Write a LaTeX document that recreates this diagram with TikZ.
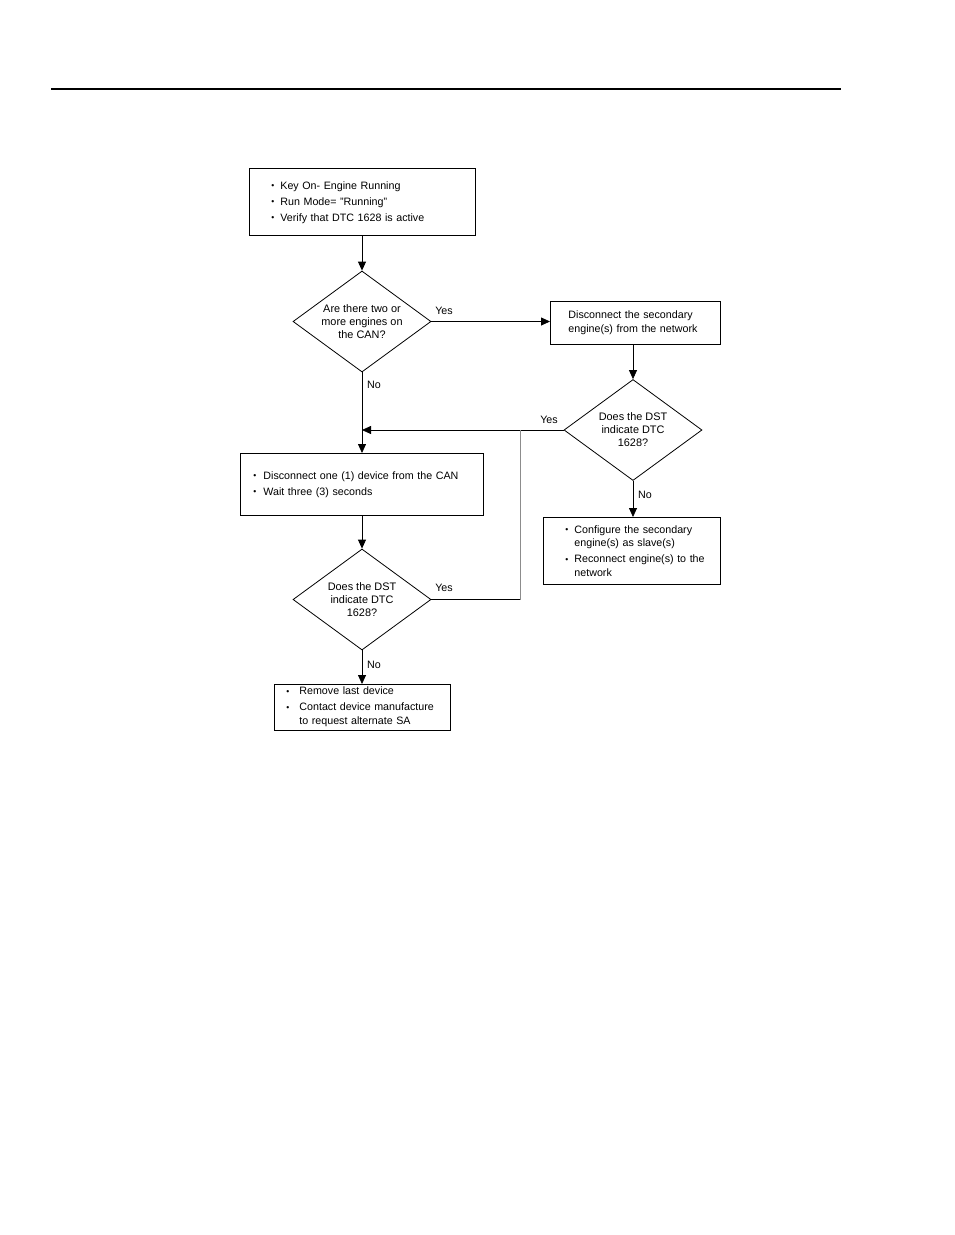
\documentclass[tikz,border=0pt]{standalone}
\usepackage{fontspec}
\setmainfont{Liberation Sans}
\usetikzlibrary{shapes.geometric,arrows.meta}
\newcommand\bdot{\raisebox{0.6pt}{\fontsize{8.5}{8.5}\selectfont •}}
\newcommand\bitem[2][9pt]{\par\noindent\hangindent=#1\hangafter=1\makebox[#1][l]{\bdot}#2\par}
\newcommand\igap{\vspace{2.5pt}}
\newcommand\bend[1][4.5pt]{\par\vspace{#1}\hrule height 0pt width 0pt}
\newcommand\bstart[1][-4pt]{\hrule height 0pt width 0pt\vspace{#1}}
\begin{document}
\begin{tikzpicture}[x=1pt,y=-1pt,
  font=\fontsize{10.7}{13.5}\selectfont,
  every path/.style={line width=0.8pt},
  arr/.style={-{Triangle[length=9pt,width=8pt]}},
  box/.style={draw,rectangle,inner ysep=0pt,align=left,anchor=north west},
  dia/.style={draw,diamond,inner sep=0pt,minimum width=138pt,minimum height=101pt},
  dtext/.style={align=center,font=\fontsize{10.9}{13}\selectfont},
  lab/.style={inner sep=0pt}]
\useasboundingbox (0,0) rectangle (954,1235);
\fill[white] (0,0) rectangle (954,1235);
\coordinate (r1) at (51,89);
\coordinate (r2) at (841,89);
\draw[line width=1.3pt] (r1) -- (r2);

% box 1
\node[box,minimum width=226pt,minimum height=67pt,text width=182pt,inner xsep=22pt] (b1) at (249,168)
 {\bitem{Key On- Engine Running}\igap\bitem{Run Mode= "Running"}\igap\bitem{Verify that DTC 1628 is active}\bend};

% diamond 1
\node[dia] (d1) at (362,321.5) {};
\node[dtext] (d1t) at (d1.center) {Are there two or\\more engines on\\the CAN?};

% box 2
\node[box,minimum width=170pt,minimum height=43pt,text width=134pt,inner xsep=18pt] (b2) at (550,301)
 {Disconnect the secondary\\engine(s) from the network};

% diamond 3
\node[dia] (d3) at (633,430) {};
\node[dtext] (d3t) at (d3.center) {Does the DST\\indicate DTC\\1628?};

% box 3
\node[box,minimum width=243pt,minimum height=62pt,text width=217pt,inner xsep=13pt] (b3) at (240,453)
 {\bitem[10pt]{Disconnect one (1) device from the CAN}\igap\bitem[10pt]{Wait three (3) seconds}\bend[5pt]};

% diamond 2
\node[dia] (d2) at (362,599.5) {};
\node[dtext] (d2t) at (d2.center) {Does the DST\\indicate DTC\\1628?};

% box 4
\node[box,minimum width=176pt,minimum height=46pt,text width=152pt,inner xsep=12pt] (b4) at (274,684)
 {\bstart[-1.5pt]\bitem[13pt]{Remove last device}\igap\bitem[13pt]{Contact device manufacture\newline to request alternate SA}};

% box 5
\node[box,minimum width=177pt,minimum height=67pt,text width=155pt,inner xsep=11pt] (b5) at (543,517)
 {\leftskip=11pt\bitem{Configure the secondary\newline engine(s) as slave(s)}\igap\bitem{Reconnect engine(s) to the\newline network}\bend[6pt]};

% coordinates
\coordinate (m1) at (362,430);
\coordinate (j1) at (520,430);
\coordinate (j2) at (520,599.5);

% connectors
\draw[arr] (b1.south -| d1.north) -- (d1.north);
\draw[arr] (d1.east) -- (b2.west |- d1.east);
\draw[arr] (b2.south -| d3.north) -- (d3.north);
\draw[arr] (d1.south) -- (b3.north -| d1.south);
\draw[arr] (d3.west) -- (m1);
\draw[arr] (b3.south -| d2.north) -- (d2.north);
\draw (d2.east) -- (j2);
\draw[black!45,line width=1pt] (j2) -- (j1);
\draw[arr] (d2.south) -- (b4.north -| d2.south);
\draw[arr] (d3.south) -- (b5.north -| d3.south);

% labels
\node[lab] (y1) at (444,311) {Yes};
\node[lab] (n1) at (374,384.5) {No};
\node[lab] (y3) at (549,420) {Yes};
\node[lab] (n3) at (645,495) {No};
\node[lab] (y2) at (444,587.5) {Yes};
\node[lab] (n2) at (374,665) {No};
\end{tikzpicture}
\end{document}
